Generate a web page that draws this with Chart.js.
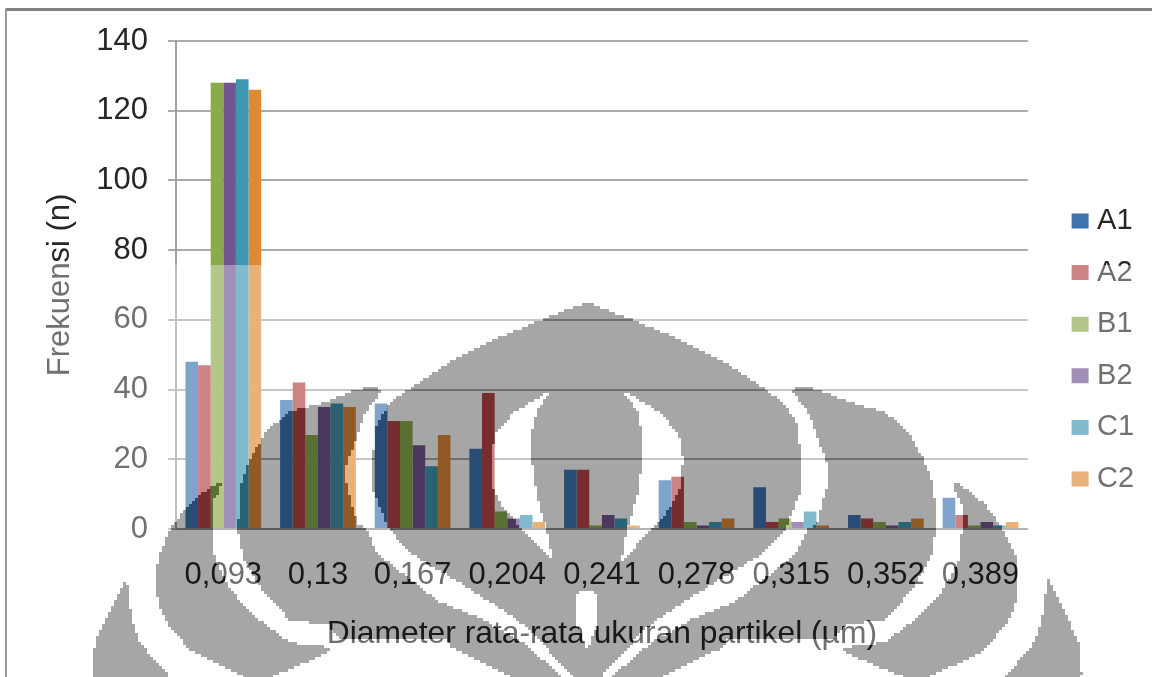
<!DOCTYPE html>
<html>
<head>
<meta charset="utf-8">
<title>Frekuensi ukuran partikel</title>
<script src="https://cdn.jsdelivr.net/npm/chart.js@4"></script>
<style>
  html, body { margin: 0; padding: 0; background: #fff; }
  canvas { display: block; }
</style>
</head>
<body>
<canvas id="chart" width="1152" height="677"></canvas>
<script>
// Particle size classes and counts per sample
const categories = ['0,093', '0,13', '0,167', '0,204', '0,241', '0,278', '0,315', '0,352', '0,389'];
const seriesA1 = [48, 37, 36, 23, 17, 14, 12, 4, 9];
const seriesA2 = [47, 42, 31, 39, 17, 15, 2, 3, 4];
const seriesB1 = [128, 27, 31, 5, 1, 2, 3, 2, 1];
const seriesB2 = [128, 35, 24, 3, 4, 1, 2, 1, 2];
const seriesC1 = [129, 36, 18, 4, 3, 2, 5, 2, 1];
const seriesC2 = [126, 35, 27, 2, 1, 3, 1, 3, 2];

const palette = ['#3d74b0', '#b44444', '#8aaa4c', '#735592', '#3f97b2', '#dc8a38'];
const inkColor = '#262626';
const fontFamily = '"Liberation Sans", Arial, sans-serif';

// University emblem laid over the page: outlines for the left half, mirrored about the axis
const EMBLEM_AXIS = 587;
const emblemSolids = [
  [[127,577],[108,615],[95,643],[92,677],[170,677],[157,663],[140,643],[132,620],[128,590]],
  [[221,481],[203,493],[190,503],[178,518],[170,530],[158,557],[156,580],[158,603],[167,623],[190,650],[223,667],[245,677],[270,677],[293,668],[330,652],[330,647],[290,643],[280,635],[257,618],[232,592],[215,560],[212,529],[212,503],[220,490]],
  [[372,386],[382,390],[363,417],[357,437],[345,467],[347,487],[357,523],[367,530],[377,553],[407,577],[440,602],[480,618],[523,643],[563,677],[513,677],[460,652],[450,647],[447,639],[340,638],[328,625],[290,620],[280,610],[262,590],[243,557],[238,530],[240,487],[250,460],[267,430],[290,412],[323,403],[355,390]],
  [[587,302],[540,320],[487,343],[453,360],[412,387],[390,403],[377,423],[372,463],[373,490],[388,528],[410,553],[450,577],[507,613],[530,630],[573,677],[587,677]]
];
const emblemOpenings = [
  [[552,390],[513,413],[495,435],[491,460],[493,487],[503,507],[523,530],[553,562],[547,530],[537,497],[532,463],[532,433],[537,410]]
];
const emblemSlit = [[576,597],[580,591],[594,591],[598,597],[598,623],[587,650],[576,623]];
const FADE_TOP = 265;
const BLOCK = 3;

function tracePolygon(ctx, pts, mirror) {
  ctx.beginPath();
  pts.forEach(([x, y], i) => {
    const px = (mirror ? 2 * EMBLEM_AXIS - x : x) / BLOCK;
    if (i) ctx.lineTo(px, y / BLOCK); else ctx.moveTo(px, y / BLOCK);
  });
  ctx.closePath();
  ctx.fill();
}

// Coarse, hard-edged stencil of the emblem, as a low resolution bitmap
function buildStencil(w, h) {
  const small = document.createElement('canvas');
  small.width = Math.ceil(w / BLOCK);
  small.height = Math.ceil(h / BLOCK);
  const s = small.getContext('2d');
  s.fillStyle = '#000';
  emblemSolids.forEach(p => { tracePolygon(s, p, false); tracePolygon(s, p, true); });
  s.globalCompositeOperation = 'destination-out';
  emblemOpenings.forEach(p => { tracePolygon(s, p, false); tracePolygon(s, p, true); });
  tracePolygon(s, emblemSlit, false);
  s.globalCompositeOperation = 'source-over';
  const img = s.getImageData(0, 0, small.width, small.height);
  for (let i = 3; i < img.data.length; i += 4) img.data[i] = img.data[i] >= 128 ? 255 : 0;
  s.putImageData(img, 0, 0);
  return small;
}

function tintedLayer(stencil, w, h, paint, keepInside) {
  const layer = document.createElement('canvas');
  layer.width = w; layer.height = h;
  const l = layer.getContext('2d');
  paint(l);
  l.globalCompositeOperation = keepInside ? 'destination-in' : 'destination-out';
  l.imageSmoothingEnabled = false;
  l.drawImage(stencil, 0, 0, stencil.width * BLOCK, stencil.height * BLOCK);
  return layer;
}

const pageEffects = {
  id: 'pageEffects',
  beforeDraw(chart) {
    const { ctx, width, height } = chart;
    ctx.save();
    ctx.fillStyle = '#fff';
    ctx.fillRect(0, 0, width, height);
    ctx.restore();
  },
  afterLayout(chart) {
    // Legend column sits apart from the plot
    const shift = 1077 - 22 - chart.legend.left;
    chart.legend.left += shift;
    chart.legend.right += shift;
  },
  afterDraw(chart) {
    const { ctx, width, height } = chart;
    const stencil = buildStencil(width, height);
    const fade = tintedLayer(stencil, width, height, l => {
      l.fillStyle = 'rgba(255,255,255,0.34)';
      l.fillRect(0, FADE_TOP, width, height - FADE_TOP);
    }, false);
    const shade = tintedLayer(stencil, width, height, l => {
      l.fillStyle = '#a6a6a6';
      l.fillRect(0, 0, width, height);
    }, true);
    ctx.save();
    ctx.drawImage(fade, 0, 0);
    ctx.globalCompositeOperation = 'multiply';
    ctx.drawImage(shade, 0, 0);
    ctx.globalCompositeOperation = 'source-over';
    // Picture frame along the top and left edges
    ctx.fillStyle = '#808080';
    ctx.fillRect(5, 8, width - 5, 3);
    ctx.fillStyle = '#9a9a9a';
    ctx.fillRect(5, 8, 2, height - 8);
    ctx.restore();
  }
};

const seriesNames = ['A1', 'A2', 'B1', 'B2', 'C1', 'C2'];
const seriesValues = [seriesA1, seriesA2, seriesB1, seriesB2, seriesC1, seriesC2];

new Chart(document.getElementById('chart'), {
  type: 'bar',
  data: {
    labels: categories,
    datasets: seriesNames.map((name, i) => ({
      label: name,
      data: seriesValues[i],
      backgroundColor: palette[i],
      borderWidth: 0,
      categoryPercentage: 0.8,
      barPercentage: 1
    }))
  },
  plugins: [pageEffects],
  options: {
    responsive: false,
    animation: false,
    devicePixelRatio: 1,
    layout: { padding: { top: 41, bottom: 18, left: 0, right: 35 } },
    plugins: {
      tooltip: { enabled: false },
      title: { display: false },
      legend: {
        position: 'right',
        labels: {
          // Small core plus a thick same-coloured outline keeps the label close to its swatch
          boxWidth: 5,
          boxHeight: 3,
          padding: 22.6,
          color: inkColor,
          font: { family: fontFamily, size: 29 },
          generateLabels(chart) {
            return Chart.defaults.plugins.legend.labels.generateLabels(chart)
              .map(item => ({ ...item, lineWidth: 12, strokeStyle: item.fillStyle }));
          }
        }
      }
    },
    scales: {
      x: {
        afterFit(scale) { scale.height = 130; },
        grid: { drawOnChartArea: false, drawTicks: false },
        border: { color: '#8c8c8c', width: 2 },
        ticks: {
          autoSkip: false,
          maxRotation: 0,
          padding: 28,
          color: inkColor,
          font: { family: fontFamily, size: 31 }
        },
        title: {
          display: true,
          text: 'Diameter rata-rata ukuran partikel (µm)',
          color: inkColor,
          padding: { top: 0, bottom: 6 },
          font: { family: fontFamily, size: 31.8 }
        }
      },
      y: {
        min: 0,
        max: 140,
        afterFit(scale) { scale.width = 176; },
        grid: { color: '#ababab', tickColor: '#ababab', lineWidth: 2, tickLength: 8 },
        border: { color: '#a0a0a0', width: 2 },
        ticks: {
          stepSize: 20,
          padding: 20,
          color: inkColor,
          font: { family: fontFamily, size: 31 }
        },
        title: {
          display: true,
          text: 'Frekuensi (n)',
          color: inkColor,
          padding: { top: 42, bottom: 0 },
          font: { family: fontFamily, size: 31 }
        }
      }
    }
  }
});
</script>
</body>
</html>
